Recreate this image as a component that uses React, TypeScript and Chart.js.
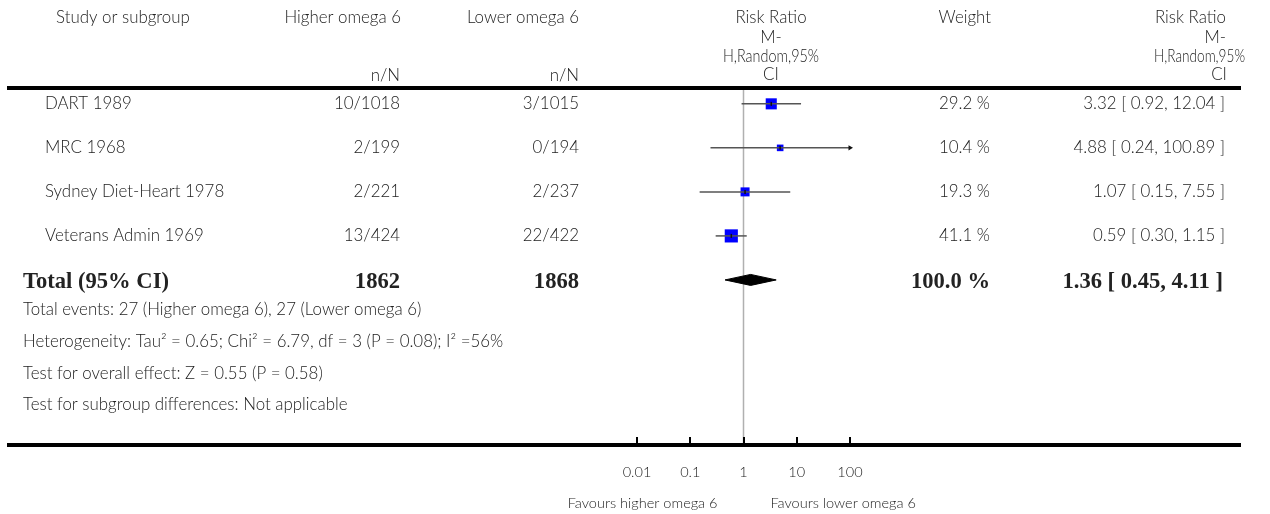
import React, { useEffect, useRef } from "react";
import { Chart, registerables } from "chart.js";

Chart.register(...registerables);

// ---------- data ----------
const studies = ["DART 1989", "MRC 1968", "Sydney Diet-Heart 1978", "Veterans Admin 1969"];
const higherEvents = ["10/1018", "2/199", "2/221", "13/424"];
const lowerEvents = ["3/1015", "0/194", "2/237", "22/422"];
const riskRatios = [3.32, 4.88, 1.07, 0.59];
const ciLow = [0.92, 0.24, 0.15, 0.3];
const ciHigh = [12.04, 100.89, 7.55, 1.15];
const weights = [29.2, 10.4, 19.3, 41.1];

const totalLabel = "Total (95% CI)";
const totalHigherN = 1862;
const totalLowerN = 1868;
const totalWeight = 100.0;
const totalRR = 1.36;
const totalLow = 0.45;
const totalHigh = 4.11;

const axisTicks = [0.01, 0.1, 1, 10, 100];
const axisTickLabels = ["0.01", "0.1", "1", "10", "100"];
const favoursLeft = "Favours higher omega 6";
const favoursRight = "Favours lower omega 6";

const footnotes = [
  "Total events: 27 (Higher omega 6), 27 (Lower omega 6)",
  "Heterogeneity: Tau\u00B2 = 0.65; Chi\u00B2 = 6.79, df = 3 (P = 0.08); I\u00B2 =56%",
  "Test for overall effect: Z = 0.55 (P = 0.58)",
  "Test for subgroup differences: Not applicable",
];

const headerStudy = "Study or subgroup";
const headerHigher = "Higher omega 6";
const headerLower = "Lower omega 6";
const headerNN = "n/N";
const headerRR = ["Risk Ratio", "M-", "H,Random,95%", "CI"];
const headerWeight = "Weight";

// ---------- style / layout ----------
const W = 1270;
const H = 514;
const AX_MIN = 0.01;
const AX_MAX = 100;
const PLOT_LEFT = 637;
const PLOT_RIGHT = 850;
const PLOT_TOP = 88;
const PLOT_BOTTOM = 445;
const Y_MIN = -0.36;
const Y_MAX = 7.75;
const SQUARE_K = 2.05; // square side = K * sqrt(weight)
const DIAMOND_HALF = 0.125; // in row units
const SANS = "Lato, 'Open Sans', 'Noto Sans', sans-serif";
const SERIF = "'Liberation Serif', 'DejaVu Serif', serif";
const TEXT = "#222";
const WEIGHT_REG = "300";

const fmt2 = (v: number) => v.toFixed(2);
const rrText = (r: number, l: number, h: number) => `${fmt2(r)} [ ${fmt2(l)}, ${fmt2(h)} ]`;

function fitSize(ctx: CanvasRenderingContext2D, text: string, family: string, weight: string, target: number) {
  ctx.font = `${weight} 100px ${family}`;
  const w = ctx.measureText(text).width;
  return (100 * target) / w;
}

const tablePlugin = {
  id: "forestTable",
  afterDraw(chart: any) {
    const ctx: CanvasRenderingContext2D = chart.ctx;
    const xs = chart.scales.x;
    const ys = chart.scales.y;
    ctx.save();
    const rowSize = fitSize(ctx, headerStudy, SANS, WEIGHT_REG, 134);
    const axisSize = fitSize(ctx, favoursLeft, SANS, WEIGHT_REG, 150);
    const boldSize = fitSize(ctx, totalLabel, SERIF, "bold", 146);
    const rowFont = `${WEIGHT_REG} ${rowSize}px ${SANS}`;
    const axisFont = `${WEIGHT_REG} ${axisSize}px ${SANS}`;
    const boldFont = `bold ${boldSize}px ${SERIF}`;
    ctx.textBaseline = "middle";

    const txt = (s: string, x: number, y: number, align: CanvasTextAlign, font: string, maxW?: number) => {
      ctx.font = font;
      ctx.textAlign = align;
      if (maxW) ctx.fillText(s, x, y, maxW);
      else ctx.fillText(s, x, y);
    };

    // rules
    ctx.fillStyle = "#000";
    ctx.fillRect(7, 86, 1234, 4);
    ctx.fillRect(7, 443, 1234, 4);
    // axis ticks
    axisTicks.forEach((t) => {
      const px = xs.getPixelForValue(t);
      ctx.fillRect(Math.round(px) - 1, 437, 2, 6);
    });
    ctx.fillStyle = TEXT;
    axisTicks.forEach((t, i) => {
      txt(axisTickLabels[i], xs.getPixelForValue(t), 472, "center", axisFont);
    });
    const nullX = xs.getPixelForValue(1);
    txt(favoursLeft, nullX - 26, 503, "right", axisFont);
    txt(favoursRight, nullX + 27, 503, "left", axisFont);

    // header
    txt(headerStudy, 56, 18, "left", rowFont);
    txt(headerHigher, 401, 18, "right", rowFont);
    txt(headerLower, 579, 18, "right", rowFont);
    txt(headerNN, 400, 76, "right", rowFont);
    txt(headerNN, 579, 76, "right", rowFont);
    txt(headerWeight, 991, 18, "right", rowFont);
    const hy = [18, 38, 57, 75];
    // middle risk ratio header (centred)
    headerRR.forEach((h, i) => txt(h, 771, hy[i], "center", rowFont, i === 2 ? 96 : undefined));
    // right risk ratio header (right aligned, long word overflowing)
    txt(headerRR[0], 1226, hy[0], "right", rowFont);
    txt(headerRR[1], 1226, hy[1], "right", rowFont);
    txt(headerRR[2], 1154, hy[2], "left", rowFont, 91);
    txt(headerRR[3], 1227, hy[3], "right", rowFont);

    // study rows
    studies.forEach((s, i) => {
      const y = ys.getPixelForValue(i);
      txt(s, 45, y, "left", rowFont);
      txt(higherEvents[i], 400, y, "right", rowFont);
      txt(lowerEvents[i], 579, y, "right", rowFont);
      txt(`${weights[i].toFixed(1)} %`, 990, y, "right", rowFont);
      txt(rrText(riskRatios[i], ciLow[i], ciHigh[i]), 1225, y, "right", rowFont);
    });
    // total row
    const ty = ys.getPixelForValue(studies.length) + 2;
    txt(totalLabel, 23, ty, "left", boldFont);
    txt(String(totalHigherN), 400, ty, "right", boldFont);
    txt(String(totalLowerN), 579, ty, "right", boldFont);
    txt(`${totalWeight.toFixed(1)} %`, 990, ty, "right", boldFont);
    txt(rrText(totalRR, totalLow, totalHigh), 1223, ty, "right", boldFont);

    // footnotes
    const fy = [310, 342, 374, 405];
    footnotes.forEach((f, i) => txt(f, 23, fy[i], "left", rowFont));
    ctx.restore();
  },
};

export default function App() {
  const ref = useRef<HTMLCanvasElement | null>(null);
  useEffect(() => {
    if (!ref.current) return;
    const clampX = (v: number) => Math.min(AX_MAX, Math.max(AX_MIN, v));

    const ciSets = studies.map((_, i) => ({
      label: "ci" + i,
      data: [
        { x: clampX(ciLow[i]), y: i },
        { x: clampX(ciHigh[i]), y: i },
      ],
      showLine: true,
      borderColor: "#555",
      borderWidth: 1.5,
      pointRadius: 0,
      clip: false as any,
    }));

    const arrows: { x: number; y: number }[] = [];
    studies.forEach((_, i) => {
      if (ciHigh[i] > AX_MAX) arrows.push({ x: AX_MAX, y: i });
    });

    const datasets: any[] = [
      {
        label: "estimate",
        data: riskRatios.map((r, i) => ({ x: r, y: i })),
        pointStyle: "line",
        rotation: 90,
        pointRadius: 2,
        borderColor: "#111",
        borderWidth: 1.5,
        showLine: false,
        clip: false,
      },
      {
        label: "arrows",
        data: arrows,
        pointStyle: "triangle",
        rotation: 90,
        pointRadius: 3,
        backgroundColor: "#111",
        borderColor: "#111",
        borderWidth: 0,
        showLine: false,
        clip: false,
      },
      ...ciSets,
      {
        label: "diamond",
        data: [
          { x: totalLow, y: studies.length },
          { x: totalRR, y: studies.length - DIAMOND_HALF },
          { x: totalHigh, y: studies.length },
          { x: totalRR, y: studies.length + DIAMOND_HALF },
          { x: totalLow, y: studies.length },
        ],
        showLine: true,
        fill: "shape",
        backgroundColor: "#000",
        borderColor: "#000",
        borderWidth: 1,
        pointRadius: 0,
        tension: 0,
        clip: false,
      },
      {
        label: "squares",
        data: riskRatios.map((r, i) => ({ x: r, y: i })),
        pointStyle: "rect",
        pointRadius: weights.map((w) => (SQUARE_K * Math.sqrt(w)) / (2 * Math.SQRT1_2)),
        backgroundColor: "#0000ff",
        borderWidth: 0,
        showLine: false,
        clip: false,
      },
      {
        label: "null",
        data: [
          { x: 1, y: Y_MIN },
          { x: 1, y: Y_MAX },
        ],
        showLine: true,
        borderColor: "#b0b0b0",
        borderWidth: 1.5,
        pointRadius: 0,
        clip: false,
      },
    ];

    const chart = new Chart(ref.current, {
      type: "scatter",
      data: { datasets },
      options: {
        animation: false,
        responsive: false,
        events: [],
        layout: {
          padding: { left: PLOT_LEFT, right: W - PLOT_RIGHT, top: PLOT_TOP, bottom: H - PLOT_BOTTOM },
        },
        plugins: { legend: { display: false }, tooltip: { enabled: false } },
        scales: {
          x: { type: "logarithmic", min: AX_MIN, max: AX_MAX, bounds: "data", display: false },
          y: { type: "linear", min: Y_MIN, max: Y_MAX, reverse: true, bounds: "data", display: false },
        },
      },
      plugins: [tablePlugin],
    });
    return () => chart.destroy();
  }, []);

  return (
    <div style={{ position: "absolute", left: 0, top: 0, width: W, height: H, background: "#fff" }}>
      <canvas ref={ref} width={W} height={H} style={{ display: "block", width: W, height: H }} />
    </div>
  );
}
